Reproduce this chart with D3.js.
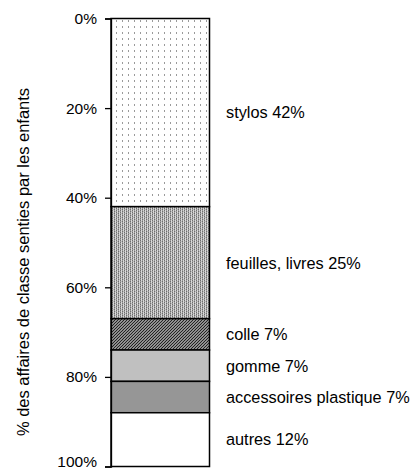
<!DOCTYPE html>
<html>
<head>
<meta charset="utf-8">
<script src="https://cdn.jsdelivr.net/npm/d3@7"></script>
<style>
  html, body { margin: 0; padding: 0; background: #fff; }
  svg { display: block; font-family: "Liberation Sans", Arial, sans-serif; }
</style>
</head>
<body>
<svg id="chart" width="420" height="471"></svg>
<script>
// Share of school items, stacked top to bottom
const categories = ["stylos", "feuilles, livres", "colle", "gomme", "accessoires plastique", "autres"];
const values = [42, 25, 7, 7, 7, 12];
const fills = ["dots", "weave", "hatch", "#c0c0c0", "#969696", "#ffffff"];
const tickValues = [0, 20, 40, 60, 80, 100];
const axisTitle = "% des affaires de classe senties par les enfants";

const svg = d3.select("#chart");
const defs = svg.append("defs");

// sparse dot pattern
const pDots = defs.append("pattern").attr("id", "dots")
  .attr("patternUnits", "userSpaceOnUse").attr("width", 6).attr("height", 6);
pDots.append("rect").attr("width", 6).attr("height", 6).attr("fill", "#fff");
pDots.append("rect").attr("x", 2).attr("y", 2).attr("width", 1).attr("height", 2).attr("fill", "#9a9a9a");

// dense woven texture with a vertical grain
const pWeave = defs.append("pattern").attr("id", "weave")
  .attr("patternUnits", "userSpaceOnUse").attr("width", 4).attr("height", 4);
pWeave.append("rect").attr("width", 4).attr("height", 4).attr("fill", "#d8d8d8");
[[0,0,"#6e6e6e"],[0,1,"#9c9c9c"],[0,2,"#6e6e6e"],[0,3,"#9c9c9c"],
 [2,0,"#9c9c9c"],[2,1,"#6e6e6e"],[2,2,"#9c9c9c"],[2,3,"#6e6e6e"],
 [1,1,"#bcbcbc"],[3,3,"#bcbcbc"]].forEach(([x, yy, c]) =>
  pWeave.append("rect").attr("x", x).attr("y", yy).attr("width", 1).attr("height", 1).attr("fill", c));

// dark diagonal hatching
const pHatch = defs.append("pattern").attr("id", "hatch")
  .attr("patternUnits", "userSpaceOnUse").attr("width", 3).attr("height", 3);
pHatch.append("rect").attr("width", 3).attr("height", 3).attr("fill", "#e8e8e8");
pHatch.append("path").attr("d", "M-1,1 L1,-1 M0,3 L3,0 M2,4 L4,2")
  .attr("stroke", "#222").attr("stroke-width", 1.3);

const fillOf = f => f.startsWith("#") ? f : `url(#${f})`;

const plotTop = 18.5, plotBottom = 466.5, axisX = 111, barX0 = 111, barX1 = 209.5;

const y = d3.scaleLinear().domain([0, 100]).range([plotTop, plotBottom]);

// cumulative stack
let acc = 0;
const segments = values.map((v, i) => {
  const s = { name: categories[i], value: v, y0: acc, y1: acc + v, fill: fills[i] };
  acc += v;
  return s;
});

const g = svg.append("g");

g.selectAll("rect.seg").data(segments).join("rect")
  .attr("class", "seg")
  .attr("x", barX0)
  .attr("y", d => y(d.y0))
  .attr("width", barX1 - barX0)
  .attr("height", d => y(d.y1) - y(d.y0))
  .attr("fill", d => fillOf(d.fill))
  .attr("stroke", "#000")
  .attr("stroke-width", 1.5);

// y axis
const axis = d3.axisLeft(y).tickValues(tickValues).tickFormat(d => d + "%").tickSize(6).tickPadding(8);
const ax = svg.append("g").attr("transform", `translate(${axisX},0)`).call(axis);
ax.select(".domain").attr("stroke", "#000").attr("stroke-width", 1.3);
ax.selectAll(".tick line").attr("stroke", "#000").attr("stroke-width", 1.3);
ax.selectAll(".tick text").attr("font-size", 15.5).attr("fill", "#000")
  .attr("font-family", "'Liberation Sans', Arial, sans-serif");
// keep the bottom label inside the frame
ax.selectAll(".tick text").filter(d => d === 100).attr("dy", "0.02em");

// segment labels
g.selectAll("text.lab").data(segments).join("text")
  .attr("class", "lab")
  .attr("x", 226)
  .attr("y", d => y((d.y0 + d.y1) / 2))
  .attr("dy", "0.36em")
  .attr("font-size", 16.3)
  .attr("fill", "#000")
  .text(d => `${d.name} ${d.value}%`);

// axis title
svg.append("text")
  .attr("transform", "translate(28.5,262) rotate(-90)")
  .attr("text-anchor", "middle")
  .attr("font-size", 16.5)
  .attr("fill", "#000")
  .text(axisTitle);
</script>
</body>
</html>
